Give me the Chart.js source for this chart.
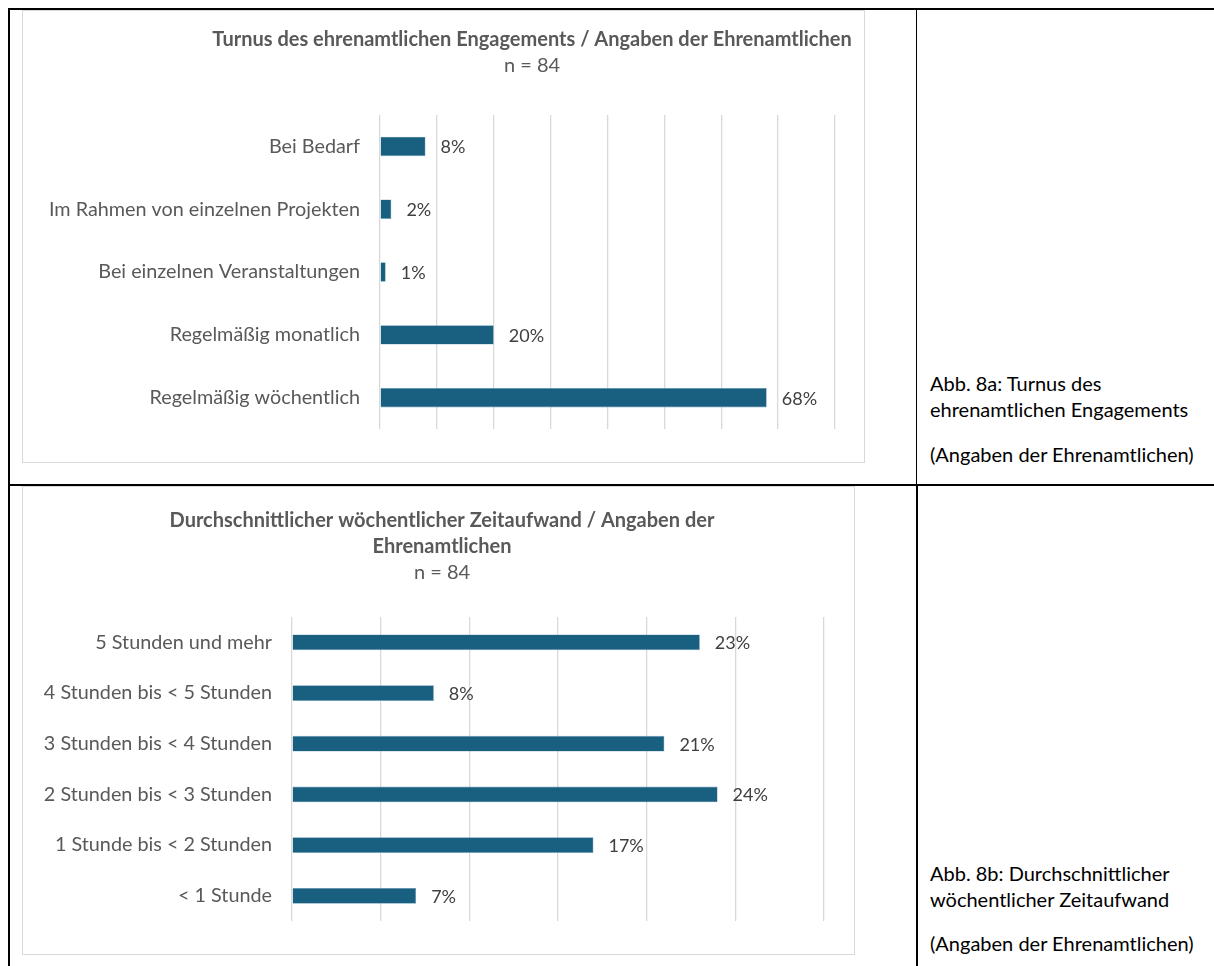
<!DOCTYPE html>
<html lang="de">
<head>
<meta charset="utf-8">
<script src="https://cdn.jsdelivr.net/npm/chart.js@4.4.1/dist/chart.umd.min.js"></script>
<style>
  body { margin: 0; background: #fff; width: 1214px; height: 966px; position: relative; overflow: hidden; font-family: Lato, "Open Sans", sans-serif; }
  .line { position: absolute; background: #000; }
  .frame { position: absolute; border: 1.5px solid #d9d9d9; box-sizing: border-box; }
  .frame canvas { position: absolute; left: 0; top: 0; }
  .caption { position: absolute; left: 930px; font-size: 20px; color: #000; line-height: 26px; white-space: nowrap; }
  .caption p { margin: 0; }
</style>
</head>
<body>
  <!-- Tabellenlinien -->
  <div class="line" style="left:8px;top:8px;width:1206px;height:2px"></div>
  <div class="line" style="left:8px;top:8px;width:2px;height:958px"></div>
  <div class="line" style="left:916px;top:8px;width:1px;height:477px"></div>
  <div class="line" style="left:916px;top:484px;width:2px;height:482px"></div>
  <div class="line" style="left:8px;top:484px;width:1206px;height:2px"></div>

  <div class="frame" style="left:22px;top:10px;width:843px;height:453px">
    <canvas id="turnusChart"></canvas>
  </div>
  <div class="frame" style="left:22px;top:486px;width:833px;height:469px">
    <canvas id="zeitChart"></canvas>
  </div>

  <div class="caption" style="top:370px">
    <p>Abb. 8a: Turnus des</p>
    <p>ehrenamtlichen Engagements</p>
    <p style="margin-top:19px">(Angaben der Ehrenamtlichen)</p>
  </div>
  <div class="caption" style="top:860px">
    <p>Abb. 8b: Durchschnittlicher</p>
    <p>wöchentlicher Zeitaufwand</p>
    <p style="margin-top:18px">(Angaben der Ehrenamtlichen)</p>
  </div>

<script>
// Daten Abb. 8a
const turnusTitle = ["Turnus des ehrenamtlichen Engagements / Angaben der Ehrenamtlichen"];
const turnusN = "n = 84";
const turnusLabels = [
  "Bei Bedarf",
  "Im Rahmen von einzelnen Projekten",
  "Bei einzelnen Veranstaltungen",
  "Regelmäßig monatlich",
  "Regelmäßig wöchentlich",
];
const turnusValues = [8, 2, 1, 20, 68];

// Daten Abb. 8b
const zeitTitle = ["Durchschnittlicher wöchentlicher Zeitaufwand / Angaben der", "Ehrenamtlichen"];
const zeitN = "n = 84";
const zeitLabels = [
  "5 Stunden und mehr",
  "4 Stunden bis < 5 Stunden",
  "3 Stunden bis < 4 Stunden",
  "2 Stunden bis < 3 Stunden",
  "1 Stunde bis < 2 Stunden",
  "< 1 Stunde",
];
const zeitValues = [23, 8, 21, 24, 17, 7];

const barColor = "#185f80";
const FONT = "Lato, 'Open Sans', sans-serif";

// Prozentwerte rechts neben die Balken schreiben
const valueLabels = {
  id: "valueLabels",
  afterDatasetsDraw(chart) {
    const ctx = chart.ctx;
    const meta = chart.getDatasetMeta(0);
    ctx.save();
    ctx.font = "18px " + FONT;
    ctx.fillStyle = "#404040";
    ctx.textAlign = "left";
    ctx.textBaseline = "middle";
    meta.data.forEach((bar, i) => {
      const v = chart.data.datasets[0].data[i];
      ctx.fillText(v + "%", bar.x + 15, bar.y + 1);
    });
    ctx.restore();
  },
};

// Titel selbst zeichnen (Excel zentriert nicht exakt)
const titleLines = {
  id: "titleLines",
  afterDraw(chart, args, opts) {
    const ctx = chart.ctx;
    ctx.save();
    ctx.fillStyle = "#595959";
    ctx.textAlign = "center";
    ctx.textBaseline = "middle";
    ctx.font = "bold 20px " + FONT;
    opts.lines.forEach((t, i) => ctx.fillText(t, opts.x, opts.y + i * opts.step));
    ctx.font = "20px " + FONT;
    ctx.fillText(opts.n, opts.x, opts.y + opts.lines.length * opts.step);
    ctx.restore();
  },
};

function makeChart(id, w, h, labels, values, max, step, area, title) {
  const canvas = document.getElementById(id);
  canvas.width = w;
  canvas.height = h;
  return new Chart(canvas.getContext("2d"), {
    type: "bar",
    data: {
      labels: labels,
      datasets: [
        {
          data: values,
          backgroundColor: barColor,
          borderColor: "#6f9fb8",
          borderWidth: 0.6,
          categoryPercentage: 1,
          barPercentage: 0.31,
        },
      ],
    },
    options: {
      indexAxis: "y",
      responsive: false,
      animation: false,
      devicePixelRatio: 1,
      layout: {
        padding: { left: 0, top: area.top, right: w - area.right, bottom: h - area.bottom },
      },
      plugins: {
        legend: { display: false },
        tooltip: { enabled: false },
        titleLines: title,
      },
      scales: {
        x: {
          min: 0,
          max: max,
          ticks: { display: false, stepSize: step },
          grid: { color: "#d9d9d9", lineWidth: 1.3, drawTicks: false },
          border: { display: false },
          afterFit: (s) => { s.height = 0; },
        },
        y: {
          ticks: { color: "#595959", font: { family: FONT, size: 19.8 }, padding: 20, autoSkip: false },
          grid: { display: false, drawTicks: false },
          border: { display: false },
          afterFit: (s) => { s.width = area.left; },
        },
      },
    },
    plugins: [valueLabels, titleLines],
  });
}

document.addEventListener("DOMContentLoaded", () => {
  makeChart("turnusChart", 840, 450, turnusLabels, turnusValues, 80, 10,
    { left: 357, right: 812, top: 104, bottom: 422 },
    { lines: turnusTitle, n: turnusN, x: 509, y: 29, step: 26 });

  makeChart("zeitChart", 830, 466, zeitLabels, zeitValues, 30, 5,
    { left: 269, right: 801, top: 130, bottom: 438 },
    { lines: zeitTitle, n: zeitN, x: 419, y: 34, step: 26 });
});
</script>
</body>
</html>
